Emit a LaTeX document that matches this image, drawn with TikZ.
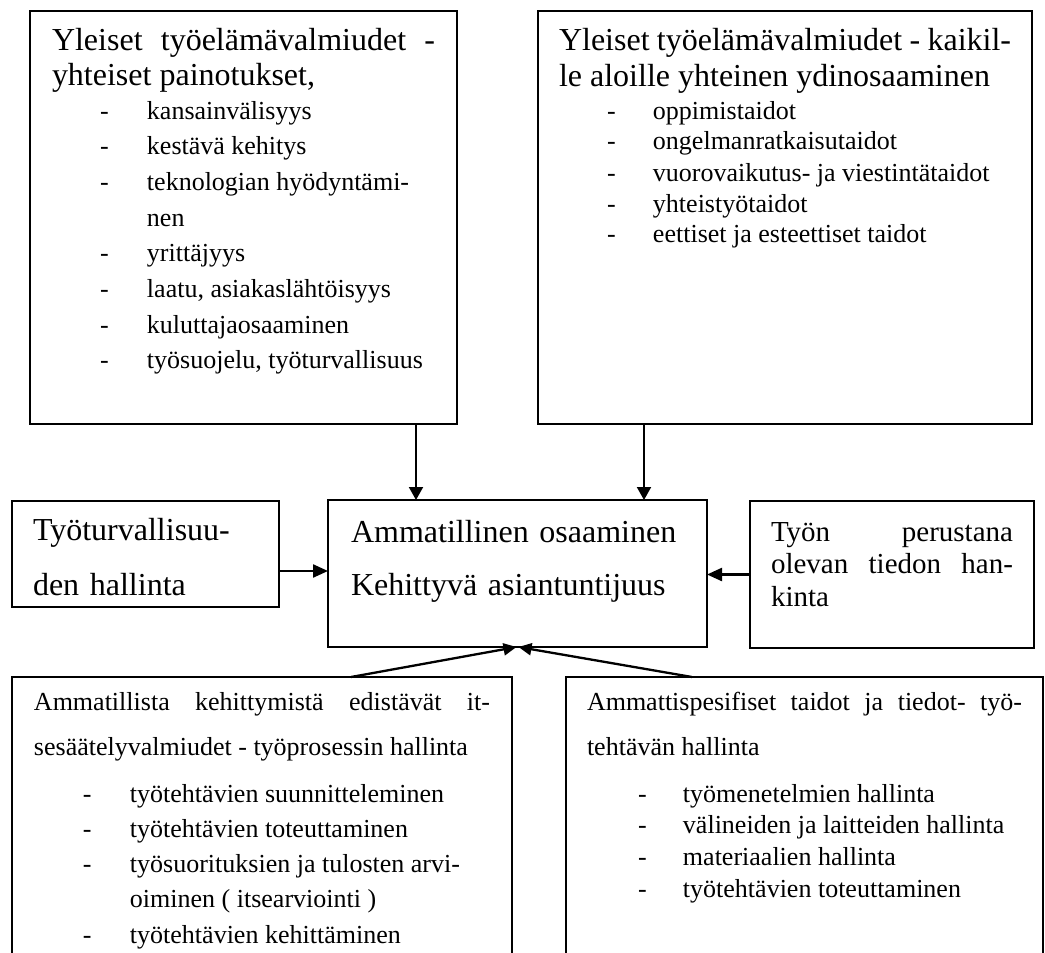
\documentclass[tikz,border=0pt]{standalone}
\usepackage{fontspec}
\setmainfont{Liberation Serif}
\usetikzlibrary{positioning, arrows.meta}

\hyphenpenalty=10000
\tolerance=9999
\hbadness=10000

\newlength{\sisennys}
\newlength{\valiviiva}
\newcommand{\kohta}[1]{\par\hangindent=\dimexpr\sisennys+\valiviiva\relax\hangafter=1\noindent\hspace*{\sisennys}\makebox[\valiviiva][l]{-}#1}
\newcommand{\pieni}[1]{\fontsize{26}{#1}\selectfont}

\begin{document}
\begin{tikzpicture}[
    x=1pt, y=-1pt,
    laatikko/.style={
        rectangle,
        draw=black,
        line width=1.4pt,
        anchor=north west,
        align=justify,
        inner ysep=0pt,
        inner xsep=21pt,
        outer sep=0pt,
        font=\fontsize{32}{35}\selectfont,
    },
    laatikko_paksu/.style={laatikko, line width=2.7pt}, % keskimmäinen laatikko
    nuoli/.style={-{Triangle[length=13pt,width=14pt]}, line width=2pt},
    nuoli_sivu/.style={-{Triangle[length=15pt,width=13pt]}, line width=2.3pt},
    nuoli_ala/.style={-{Triangle[length=13pt,width=12pt]}, line width=2.3pt}
]
\useasboundingbox (0,0) rectangle (1045,953);
\clip (0,0) rectangle (1045,953);

% Ylälaatikot
\node[laatikko, inner xsep=22pt, text width=383pt, text height=39pt, text depth=374pt] (yhteiset) at (30,11) {%
    Yleiset työelämävalmiudet -\break yhteiset painotukset,\par
    \setlength{\sisennys}{48pt}\setlength{\valiviiva}{47pt}%
    \pieni{35.7}\vspace{-1.7pt}%
    \kohta{kansainvälisyys}
    \kohta{kestävä kehitys}
    \kohta{teknologian hyödyntämi-\hfil\break nen}
    \kohta{yrittäjyys}
    \kohta{laatu, asiakaslähtöisyys}
    \kohta{kuluttajaosaaminen}
    \kohta{työsuojelu, työturvallisuus}\par};
\node[laatikko, text width=452pt, text height=39pt, text depth=374pt, font=\fontsize{32}{36}\selectfont] (ydin) at (538,11) {%
    Yleiset työelämävalmiudet - kaikil-\break le aloille yhteinen ydinosaaminen\par
    \setlength{\sisennys}{48pt}\setlength{\valiviiva}{46pt}%
    \pieni{31}\vspace{2pt}%
    \kohta{oppimistaidot}
    \kohta{ongelmanratkaisutaidot}
    \kohta{vuorovaikutus- ja viestintätaidot}
    \kohta{yhteistyötaidot}
    \kohta{eettiset ja esteettiset taidot}\par};

% Keskirivi
\node[laatikko_paksu, inner xsep=23pt, text width=333pt, text height=42pt, text depth=105pt, align=left, font=\fontsize{32}{53}\selectfont] (ammatillinen) at (328,500) {Ammatillinen osaaminen\\Kehittyvä asiantuntijuus};
\node[laatikko, text width=225pt, text height=39pt, text depth=67pt, align=left, font=\fontsize{32}{55}\selectfont] (turvallisuus) at (12,501) {Työturvallisuu-\\den hallinta};
\node[laatikko, text width=242pt, text height=40pt, text depth=107pt, font=\fontsize{29}{32.5}\selectfont] (tiedonhankinta) at (750,501) {Työn perustana\break olevan tiedon han-\break kinta};

% Alalaatikot (jatkuvat kuvan alareunan yli)
\node[laatikko, inner xsep=22pt, text width=456pt, text height=33pt, text depth=300pt, font=\fontsize{26}{45}\selectfont] (itsesaately) at (12,677) {%
    Ammatillista kehittymistä edistävät it-\break sesäätelyvalmiudet - työprosessin hallinta\par
    \setlength{\sisennys}{49pt}\setlength{\valiviiva}{47pt}%
    \pieni{35.25}\vspace{11.75pt}%
    \kohta{työtehtävien suunnitteleminen}
    \kohta{työtehtävien toteuttaminen}
    \kohta{työsuorituksien ja tulosten arvi-\hfil\break oiminen ( itsearviointi )}
    \kohta{työtehtävien kehittäminen}\par};
\node[laatikko, text width=435pt, text height=33pt, text depth=300pt, font=\fontsize{26}{45}\selectfont] (ammattispesifi) at (566,677) {%
    Ammattispesifiset taidot ja tiedot- työ-\break tehtävän hallinta\par
    \setlength{\sisennys}{51pt}\setlength{\valiviiva}{45pt}%
    \pieni{31.7}\vspace{15.3pt}%
    \kohta{työmenetelmien hallinta}
    \kohta{välineiden ja laitteiden hallinta}
    \kohta{materiaalien hallinta}
    \kohta{työtehtävien toteuttaminen}\par};

% Apupisteet nuolille
\coordinate (yla1) at ([xshift=88pt]ammatillinen.north west);
\coordinate (yla2) at ([xshift=316pt]ammatillinen.north west);
\coordinate (vasen) at ([yshift=-17pt]turvallisuus.east);
\coordinate (ala1) at ([xshift=339pt]itsesaately.north west);
\coordinate (ala2) at ([xshift=126pt]ammattispesifi.north west);

% Nuolet
\draw[nuoli] (yla1 |- yhteiset.south) -- (yla1);
\draw[nuoli] (yla2 |- ydin.south) -- (yla2);
\draw[nuoli_sivu] (vasen) -- (vasen -| ammatillinen.west);
\draw[nuoli_sivu] (tiedonhankinta.west) -- (tiedonhankinta.west -| ammatillinen.east);
\draw[nuoli_ala] (ala1) -- ([xshift=-1pt]ammatillinen.south);
\draw[nuoli_ala] (ala2) -- ([xshift=1pt]ammatillinen.south);

\end{tikzpicture}
\end{document}
